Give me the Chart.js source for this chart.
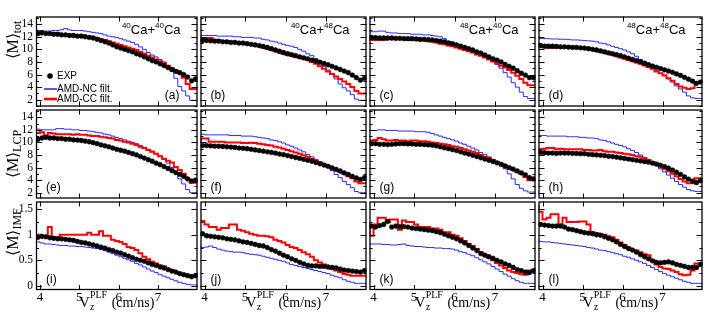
<!DOCTYPE html>
<html><head><meta charset="utf-8">
<script src="https://cdn.jsdelivr.net/npm/chart.js@4.4.1/dist/chart.umd.min.js"></script>
<style>
html,body{margin:0;padding:0;background:#fff;width:709px;height:315px;overflow:hidden;position:relative}
canvas{position:absolute}
</style></head><body>
<script>
// ---------------- DATA ----------------
const BIN_CENTERS = [3.95,4.05,4.15,4.25,4.35,4.45,4.55,4.65,4.75,4.85,4.95,5.05,5.15,5.25,5.35,5.45,5.55,5.65,5.75,5.85,5.95,6.05,6.15,6.25,6.35,6.45,6.55,6.65,6.75,6.85,6.95,7.05,7.15,7.25,7.35,7.45,7.55,7.65,7.75,7.85,7.95];
const BIN_WIDTH = 0.1;
const X_TICKS = [4,5,6,7];
const Y_TICKS_MULT = [2,4,6,8,10,12,14];
const Y_TICKS_IMF = [0,0.5,1,1.5];
const REACTIONS = [['40','40'],['40','48'],['48','40'],['48','48']];
const PANEL_LABELS = ['(a)','(b)','(c)','(d)','(e)','(f)','(g)','(h)','(i)','(j)','(k)','(l)'];
const ROW_SUBSCRIPTS = ['tot','LCP','IMF'];
const LEGEND_LABELS = ['EXP','AMD-NC filt.','AMD-CC filt.'];

// Row 1: <M>_tot
const EXP_A = [12.5,12.6,12.5,12.5,12.4,12.4,12.3,12.3,12.2,12.2,12.1,12.1,12.0,11.9,11.8,11.6,11.4,11.2,11.0,10.7,10.4,10.2,10.0,9.8,9.6,9.3,9.1,8.8,8.5,8.2,8.0,7.7,7.4,7.1,6.8,6.5,6.3,6.0,5.6,5.0,5.3];
const CC_A  = [12.9,12.8,12.7,12.6,12.6,12.5,12.5,12.4,12.4,12.3,12.3,12.2,12.2,12.1,12.0,11.9,11.8,11.6,11.5,11.3,11.1,10.9,10.7,10.5,10.3,10.1,9.9,9.6,9.3,9.0,8.7,8.4,8.1,7.8,7.4,7.0,6.6,6.2,5.5,4.5,3.7];
const NC_A  = [13.2,13.0,13.0,12.9,12.9,13.0,13.0,13.1,13.3,13.1,13.0,13.0,13.0,12.9,12.8,12.7,12.6,12.5,12.3,12.1,12.0,11.9,11.7,11.5,11.3,11.1,10.8,10.4,10.0,9.5,9.1,8.8,8.4,8.0,7.4,6.5,5.4,4.1,3.4,2.6,1.9];

const EXP_B = [11.4,11.4,11.35,11.3,11.3,11.2,11.2,11.1,11.1,11.0,11.0,10.9,10.8,10.7,10.6,10.45,10.3,10.1,9.9,9.7,9.5,9.3,9.15,9.0,8.8,8.65,8.5,8.3,8.15,7.95,7.75,7.55,7.3,7.05,6.8,6.55,6.3,5.9,5.5,5.1,5.4];
const CC_B  = [11.6,11.6,11.8,11.8,11.5,11.4,11.3,11.2,11.1,11.1,11.0,10.9,10.8,10.7,10.6,10.5,10.3,10.1,9.9,9.7,9.5,9.3,9.1,9.0,8.8,8.7,8.5,8.3,8.0,7.7,7.3,6.9,6.5,6.1,5.7,5.3,4.9,4.5,4.0,3.4,3.0];
const NC_B  = [12.2,12.2,12.2,12.2,12.2,12.1,12.1,12.1,12.1,12.0,12.0,11.9,11.9,11.9,11.8,11.8,11.6,11.5,11.3,11.2,11.0,10.8,10.6,10.5,10.3,10.0,9.7,9.3,9.0,8.5,7.8,7.3,6.7,6.0,5.3,4.5,3.9,3.4,2.8,2.1,1.9];

const EXP_C = [11.9,11.85,11.8,11.8,11.8,11.8,11.75,11.75,11.7,11.7,11.7,11.65,11.6,11.6,11.55,11.5,11.4,11.3,11.2,11.0,10.9,10.7,10.5,10.3,10.1,9.9,9.6,9.4,9.1,8.8,8.5,8.3,8.0,7.6,7.3,7.0,6.6,6.2,5.9,5.5,5.5];
const CC_C  = [11.4,11.5,11.5,11.5,11.5,11.6,11.6,11.6,11.6,11.6,11.5,11.5,11.5,11.4,11.4,11.3,11.2,11.1,10.9,10.8,10.6,10.5,10.3,10.1,9.9,9.7,9.5,9.2,9.0,8.7,8.4,8.1,7.8,7.4,7.1,6.7,6.3,5.8,5.3,4.7,4.3];
const NC_C  = [12.8,12.8,12.8,12.9,12.9,12.7,12.6,12.6,12.5,12.5,12.5,12.4,12.4,12.4,12.3,12.3,12.2,12.1,12.0,11.7,11.3,10.9,10.6,10.4,10.1,9.9,9.6,9.4,9.1,8.8,8.4,8.0,7.6,7.0,6.3,5.6,4.7,4.0,3.2,2.5,2.2];

const EXP_D = [10.6,10.5,10.5,10.5,10.45,10.4,10.4,10.35,10.3,10.3,10.25,10.2,10.1,10.0,9.9,9.75,9.6,9.45,9.3,9.15,9.0,8.8,8.6,8.4,8.2,8.0,7.8,7.55,7.35,7.15,6.95,6.75,6.55,6.35,6.1,5.85,5.55,5.25,4.95,4.6,4.8];
const CC_D  = [10.4,10.4,10.3,10.2,10.2,10.3,10.3,10.3,10.3,10.3,10.2,10.2,10.1,10.0,9.9,9.75,9.6,9.45,9.3,9.1,8.9,8.7,8.5,8.3,8.1,7.9,7.7,7.45,7.2,6.9,6.5,6.2,5.9,5.4,5.0,4.5,4.1,3.9,3.7,3.8,4.8];
const NC_D  = [11.7,11.7,11.7,11.7,11.65,11.65,11.6,11.6,11.55,11.5,11.5,11.45,11.4,11.35,11.3,11.2,11.0,10.9,10.7,10.5,10.3,10.1,9.9,9.6,9.3,8.9,8.4,8.0,7.5,7.1,6.6,6.2,5.8,5.3,4.8,4.2,3.7,3.2,2.6,2.3,2.2];

// Row 2: <M>_LCP
const EXP_E = [10.5,10.7,10.8,10.7,10.7,10.6,10.6,10.5,10.5,10.4,10.35,10.3,10.2,10.1,9.95,9.8,9.6,9.45,9.3,9.1,8.9,8.75,8.6,8.4,8.2,8.0,7.75,7.5,7.25,7.0,6.7,6.45,6.15,5.85,5.5,5.2,4.9,4.6,4.2,3.85,4.0];
const CC_E  = [12.0,11.5,11.6,11.1,11.5,11.4,11.3,11.3,11.3,11.3,11.2,11.3,11.2,11.2,11.1,11.0,11.0,10.9,10.8,10.7,10.6,10.4,10.3,10.1,10.0,9.8,9.6,9.3,9.1,8.8,8.5,8.2,7.8,7.4,7.1,6.8,6.1,5.6,5.0,4.2,3.6];
const NC_E  = [12.3,12.1,12.0,12.0,12.0,12.0,12.2,12.2,12.1,12.1,12.0,12.0,11.9,11.9,11.8,11.7,11.6,11.5,11.3,11.2,11.0,10.8,10.6,10.4,10.2,10.0,9.8,9.5,9.2,8.9,8.6,8.2,7.8,7.3,6.7,6.0,5.2,4.2,3.4,2.5,2.0];

const EXP_F = [9.5,9.5,9.45,9.4,9.4,9.35,9.3,9.25,9.2,9.1,9.05,9.0,8.9,8.8,8.7,8.6,8.5,8.4,8.3,8.15,8.05,7.9,7.75,7.6,7.45,7.3,7.15,7.0,6.8,6.6,6.4,6.2,5.95,5.7,5.45,5.15,4.9,4.6,4.35,4.1,4.4];
const CC_F  = [10.0,10.6,10.6,10.1,10.1,10.1,10.1,10.0,10.0,10.0,10.0,9.9,9.9,9.95,9.9,9.8,9.7,9.6,9.5,9.3,9.2,9.0,8.8,8.6,8.4,8.2,7.95,7.7,7.4,7.1,6.8,6.5,6.2,5.9,5.6,5.3,5.0,4.6,4.3,3.8,3.5];
const NC_F  = [11.3,11.3,11.2,11.2,11.2,11.2,11.2,11.2,11.1,11.1,11.1,11.0,11.0,11.0,10.9,10.8,10.7,10.6,10.4,10.3,10.1,9.9,9.6,9.4,9.1,8.8,8.5,8.1,7.7,7.3,6.9,6.5,6.0,5.5,4.9,4.4,3.8,3.3,2.8,2.2,2.0];

const EXP_G = [9.8,9.8,9.7,9.7,9.65,9.7,9.75,9.8,9.8,9.75,9.75,9.7,9.7,9.65,9.6,9.55,9.45,9.3,9.15,9.0,8.85,8.7,8.5,8.3,8.15,7.95,7.75,7.55,7.35,7.15,6.95,6.75,6.5,6.25,6.0,5.75,5.45,5.15,4.85,4.4,4.2];
const CC_G  = [10.3,10.3,10.4,10.7,10.5,10.3,10.3,10.4,10.3,10.3,10.2,10.3,10.3,10.2,10.2,10.1,10.0,9.9,9.8,9.7,9.6,9.4,9.3,9.1,8.9,8.7,8.5,8.3,8.0,7.7,7.5,7.2,6.9,6.6,6.3,6.0,5.6,5.3,5.0,4.5,4.0];
const NC_G  = [11.9,11.9,11.9,12.0,12.0,11.9,11.9,11.9,11.8,11.8,11.8,11.8,11.7,11.7,11.7,11.6,11.4,11.2,11.0,10.8,10.6,10.4,10.2,9.9,9.7,9.4,9.1,8.8,8.4,8.1,7.7,7.3,6.9,6.4,5.8,5.0,4.2,3.3,2.7,2.3,2.1];

const EXP_H = [8.4,8.35,8.3,8.3,8.25,8.3,8.3,8.3,8.25,8.25,8.2,8.2,8.1,8.05,8.0,7.95,7.9,7.8,7.75,7.65,7.55,7.45,7.35,7.25,7.15,7.05,6.95,6.85,6.7,6.55,6.35,6.15,5.9,5.6,5.25,4.9,4.5,4.15,3.85,3.6,3.9];
const CC_H  = [8.8,8.9,9.0,9.1,9.1,8.9,9.0,8.9,8.9,8.9,8.9,8.9,8.8,8.8,8.7,8.7,8.8,8.6,8.5,8.5,8.4,8.3,8.2,8.1,8.0,7.8,7.7,7.5,7.2,6.9,6.6,6.2,5.8,5.4,5.0,4.6,4.2,3.8,3.5,3.5,4.3];
const NC_H  = [11.1,11.1,11.1,11.0,11.0,11.0,11.0,11.0,10.9,10.9,10.9,10.8,10.8,10.7,10.7,10.6,10.4,10.3,10.1,9.9,9.7,9.5,9.3,9.0,8.7,8.4,8.0,7.6,7.2,6.8,6.3,5.8,5.3,4.8,4.3,3.8,3.3,2.9,2.5,2.3,2.2];

// Row 3: <M>_IMF
const EXP_I = [0.95,0.97,0.96,0.94,0.93,0.92,0.92,0.91,0.9,0.89,0.87,0.85,0.84,0.82,0.8,0.78,0.76,0.74,0.71,0.69,0.66,0.64,0.61,0.58,0.55,0.52,0.5,0.48,0.45,0.42,0.4,0.37,0.35,0.32,0.29,0.27,0.24,0.22,0.2,0.18,0.2];
const CC_I  = [0.98,1.0,0.95,0.95,1.15,0.95,0.95,1.0,1.0,1.0,1.0,1.0,1.0,1.0,1.04,1.0,1.0,1.07,0.98,0.98,0.9,0.88,0.86,0.82,0.76,0.74,0.7,0.64,0.57,0.52,0.47,0.44,0.4,0.38,0.33,0.31,0.27,0.24,0.23,0.21,0.21];
const NC_I  = [0.88,0.86,0.84,0.82,0.82,0.81,0.8,0.79,0.79,0.78,0.78,0.77,0.77,0.76,0.75,0.74,0.73,0.71,0.69,0.66,0.63,0.6,0.57,0.54,0.51,0.48,0.44,0.41,0.37,0.33,0.29,0.26,0.22,0.19,0.16,0.13,0.1,0.07,0.05,0.03,0.02];

const EXP_J = [1.02,0.98,0.97,0.96,0.95,0.94,0.92,0.91,0.9,0.88,0.86,0.85,0.83,0.81,0.79,0.78,0.75,0.71,0.68,0.64,0.6,0.57,0.53,0.5,0.46,0.43,0.4,0.39,0.39,0.38,0.38,0.37,0.36,0.35,0.33,0.31,0.3,0.29,0.28,0.27,0.3];
const CC_J  = [1.27,1.27,1.2,1.15,1.15,1.1,1.13,1.13,1.2,1.2,1.1,1.08,1.05,1.02,1.0,0.98,0.98,0.97,0.95,0.9,0.88,0.85,0.8,0.76,0.74,0.7,0.66,0.62,0.57,0.5,0.46,0.42,0.37,0.33,0.3,0.27,0.24,0.22,0.2,0.2,0.2];
const NC_J  = [0.79,0.75,0.76,0.78,0.75,0.72,0.7,0.68,0.67,0.66,0.66,0.65,0.63,0.62,0.61,0.6,0.58,0.56,0.54,0.52,0.5,0.48,0.45,0.42,0.4,0.38,0.36,0.34,0.32,0.3,0.28,0.26,0.24,0.21,0.18,0.16,0.12,0.09,0.07,0.05,0.05];

const EXP_K = [1.17,1.15,1.18,1.2,1.26,1.15,1.17,1.16,1.16,1.15,1.13,1.12,1.11,1.1,1.09,1.08,1.06,1.04,1.01,0.98,0.95,0.92,0.88,0.84,0.79,0.74,0.69,0.63,0.6,0.57,0.54,0.5,0.47,0.43,0.4,0.36,0.32,0.3,0.27,0.26,0.3];
const CC_K  = [1.23,0.98,1.2,1.33,1.33,1.25,1.3,1.3,1.1,1.28,1.25,1.25,1.2,1.15,1.15,1.15,1.12,1.12,1.1,1.05,1.05,1.0,0.98,0.93,0.88,0.82,0.78,0.72,0.66,0.6,0.55,0.5,0.45,0.4,0.35,0.3,0.27,0.25,0.23,0.22,0.3];
const NC_K  = [0.81,0.82,0.82,0.82,0.81,0.81,0.8,0.8,0.81,0.82,0.79,0.78,0.77,0.77,0.76,0.75,0.75,0.74,0.74,0.73,0.73,0.72,0.7,0.67,0.65,0.62,0.59,0.55,0.51,0.47,0.43,0.38,0.33,0.28,0.23,0.19,0.14,0.1,0.07,0.05,0.05];

const EXP_L = [1.2,1.19,1.18,1.17,1.17,1.17,1.15,1.11,1.1,1.08,1.06,1.04,1.03,1.02,1.0,0.99,0.96,0.93,0.9,0.86,0.81,0.77,0.73,0.7,0.66,0.61,0.57,0.53,0.49,0.46,0.45,0.46,0.47,0.45,0.42,0.4,0.38,0.36,0.36,0.36,0.42];
const CC_L  = [1.59,1.45,1.3,1.33,1.4,1.4,1.2,1.33,1.25,1.25,1.25,1.26,1.26,1.2,1.05,1.03,1.01,1.0,0.97,0.95,0.9,0.85,0.8,0.75,0.7,0.69,0.66,0.62,0.6,0.5,0.42,0.37,0.34,0.33,0.3,0.27,0.23,0.21,0.22,0.3,0.44];
const NC_L  = [0.88,0.87,0.86,0.86,0.85,0.84,0.83,0.82,0.81,0.8,0.79,0.78,0.77,0.75,0.74,0.72,0.7,0.69,0.67,0.65,0.63,0.61,0.58,0.56,0.53,0.5,0.47,0.44,0.4,0.36,0.32,0.28,0.24,0.21,0.18,0.15,0.12,0.09,0.07,0.05,0.05];

const SERIES = [
  [EXP_A, NC_A, CC_A],[EXP_B, NC_B, CC_B],[EXP_C, NC_C, CC_C],[EXP_D, NC_D, CC_D],
  [EXP_E, NC_E, CC_E],[EXP_F, NC_F, CC_F],[EXP_G, NC_G, CC_G],[EXP_H, NC_H, CC_H],
  [EXP_I, NC_I, CC_I],[EXP_J, NC_J, CC_J],[EXP_K, NC_K, CC_K],[EXP_L, NC_L, CC_L]
];

// ---------------- LAYOUT / STYLE ----------------
const COL_L = [36,199,368,537], COL_R = [199,368,537,704];
const ROW_T = [15,108,200], ROW_B = [108,200,290];
const X_RANGE = [3.9, 8.0];
const Y_RANGE = [[0.92,15.22],[1.08,15.23],[-0.08,1.65]];
const Y_TICKS = [Y_TICKS_MULT, Y_TICKS_MULT, Y_TICKS_IMF];
const Y_MINOR = [1, 1, 0.25];
const YTITLE_CENTER = [40, 154, 232];
const M = 3;
const SERIF = '"Liberation Serif","Times New Roman",serif';
const SANS = '"Liberation Sans",Arial,sans-serif';
const BLUE = '#2a2aff', RED = '#ff0000';

function drawRich(ctx, parts, x, y, align) {
  let w = 0;
  parts.forEach(p => { ctx.font = p.f; p.w = ctx.measureText(p.t).width; w += p.w; });
  let cx = align === 'right' ? x - w : align === 'center' ? x - w / 2 : x;
  ctx.textAlign = 'left'; ctx.textBaseline = 'alphabetic';
  parts.forEach(p => { ctx.font = p.f; ctx.fillText(p.t, cx, y + (p.dy || 0)); cx += p.w; });
}

function makePanel(r, c) {
  const idx = r * 4 + c;
  const [exp, nc, cc] = SERIES[idx];
  const left = c === 0 ? 0 : COL_L[c] - M;
  const top = ROW_T[r] - M;
  const right = COL_R[c] + M;
  const bottom = r === 2 ? 315 : ROW_B[r] + M;
  const w = right - left, h = bottom - top;
  const cv = document.createElement('canvas');
  cv.width = w; cv.height = h;
  cv.style.left = left + 'px'; cv.style.top = top + 'px';
  cv.style.width = w + 'px'; cv.style.height = h + 'px';
  document.body.appendChild(cv);

  const histo = vals => {
    const pts = BIN_CENTERS.map((x, i) => ({x: x - BIN_WIDTH / 2, y: vals[i]}));
    pts.push({x: BIN_CENTERS[BIN_CENTERS.length - 1] + BIN_WIDTH / 2, y: vals[vals.length - 1]});
    return pts;
  };
  const showX = r === 2, showY = c === 0;

  const framePlugin = {
    id: 'frame' + idx,
    afterDatasetsDraw(chart) {
      const ctx = chart.ctx, a = chart.chartArea, xs = chart.scales.x, ys = chart.scales.y;
      ctx.save();
      ctx.strokeStyle = '#000'; ctx.lineWidth = 1;
      ctx.beginPath();
      X_TICKS.forEach(v => {
        const px = Math.round(xs.getPixelForValue(v)) + 0.5;
        ctx.moveTo(px, a.top); ctx.lineTo(px, a.top + 5);
        ctx.moveTo(px, a.bottom); ctx.lineTo(px, a.bottom - 5);
      });
      const step = Y_MINOR[r];
      for (let v = Math.ceil(Y_RANGE[r][0] / step) * step; v <= Y_RANGE[r][1] + 1e-9; v += step) {
        const major = Y_TICKS[r].some(t => Math.abs(t - v) < 1e-6);
        const len = major ? 6 : 3;
        const py = Math.round(ys.getPixelForValue(v)) + 0.5;
        ctx.moveTo(a.left, py); ctx.lineTo(a.left + len, py);
        ctx.moveTo(a.right, py); ctx.lineTo(a.right - len, py);
      }
      ctx.stroke();
      ctx.lineWidth = 1.3;
      ctx.strokeRect(a.left + 0.5, a.top + 0.5, a.right - a.left - 1, a.bottom - a.top - 1);
      ctx.restore();
    },
    afterDraw(chart) {
      const ctx = chart.ctx, a = chart.chartArea;
      ctx.save();
      ctx.fillStyle = '#000';
      if (r === 0) {
        const [p1, p2] = REACTIONS[c];
        drawRich(ctx, [
          {t: p1, f: `8px ${SANS}`, dy: -5.5}, {t: 'Ca+', f: `13px ${SANS}`},
          {t: p2, f: `8px ${SANS}`, dy: -5.5}, {t: 'Ca', f: `13px ${SANS}`}
        ], a.right - 17, a.top + 17, 'right');
      }
      ctx.font = `12px ${SANS}`; ctx.textBaseline = 'middle';
      if (idx === 0) { ctx.textAlign = 'right'; ctx.fillText(PANEL_LABELS[idx], a.right - 18, a.bottom - 10.5); }
      else { ctx.textAlign = 'left'; ctx.fillText(PANEL_LABELS[idx], a.left + 10, a.bottom - 10.5); }
      if (idx === 0) {
        ctx.beginPath(); ctx.arc(a.left + 14, a.top + 59.5, 2.8, 0, Math.PI * 2); ctx.fill();
        ctx.lineWidth = 1.6; ctx.strokeStyle = BLUE;
        ctx.beginPath(); ctx.moveTo(a.left + 8, a.top + 72.5); ctx.lineTo(a.left + 21, a.top + 72.5); ctx.stroke();
        ctx.lineWidth = 2.6; ctx.strokeStyle = RED;
        ctx.beginPath(); ctx.moveTo(a.left + 8, a.top + 82.5); ctx.lineTo(a.left + 21, a.top + 82.5); ctx.stroke();
        ctx.font = `10px ${SANS}`; ctx.textAlign = 'left'; ctx.textBaseline = 'middle';
        ctx.fillText(LEGEND_LABELS[0], a.left + 21, a.top + 60);
        ctx.fillText(LEGEND_LABELS[1], a.left + 21, a.top + 72.5);
        ctx.fillText(LEGEND_LABELS[2], a.left + 21, a.top + 82.5);
      }
      if (c === 0) {
        ctx.save();
        ctx.translate(18, YTITLE_CENTER[r] - top);
        ctx.rotate(-Math.PI / 2);
        drawRich(ctx, [{t: '\u27E8M\u27E9', f: `16px ${SERIF}`}, {t: ROW_SUBSCRIPTS[r], f: `12px ${SERIF}`, dy: 3}], 0, 0, 'center');
        ctx.restore();
      }
      if (r === 2) {
        const by = a.bottom + 16.5;
        ctx.textAlign = 'left'; ctx.textBaseline = 'alphabetic';
        ctx.font = `15px ${SERIF}`; const wV = ctx.measureText('V').width;
        ctx.font = `10px ${SERIF}`; const wz = ctx.measureText('z').width, wP = ctx.measureText('PLF').width;
        ctx.font = `14px ${SERIF}`; const wU = ctx.measureText(' (cm/ns)').width;
        const wS = Math.max(wz, wP) + 1;
        let x0 = (a.left + a.right) / 2 - (wV + wS + wU) / 2;
        ctx.font = `15px ${SERIF}`; ctx.fillText('V', x0, by);
        ctx.font = `10px ${SERIF}`; ctx.fillText('z', x0 + wV, by + 3); ctx.fillText('PLF', x0 + wV, by - 9);
        ctx.font = `14px ${SERIF}`; ctx.fillText(' (cm/ns)', x0 + wV + wS, by);
      }
      ctx.restore();
    }
  };

  new Chart(cv, {
    type: 'line',
    data: {
      datasets: [
        {data: BIN_CENTERS.map((x, i) => ({x, y: exp[i]})), showLine: false, pointRadius: 2.4,
         pointBackgroundColor: '#000', pointBorderColor: '#000', pointBorderWidth: 0.5, pointStyle: 'circle'},
        {data: histo(cc), stepped: 'after', borderColor: RED, borderWidth: 2, pointRadius: 0, fill: false},
        {data: histo(nc), stepped: 'after', borderColor: BLUE, borderWidth: 1, pointRadius: 0, fill: false}
      ]
    },
    options: {
      responsive: false, animation: false, events: [],
      layout: {padding: {left: showY ? 0 : M, right: M, top: M, bottom: showX ? 0 : M}},
      plugins: {legend: {display: false}, tooltip: {enabled: false}},
      scales: {
        x: {
          type: 'linear', min: X_RANGE[0], max: X_RANGE[1], display: showX,
          afterFit: s => { if (showX) s.height = 315 - ROW_B[2]; s.paddingLeft = 0; s.paddingRight = 0; s.paddingTop = 0; s.paddingBottom = 0; },
          afterBuildTicks: s => { s.ticks = X_TICKS.map(v => ({value: v})); },
          grid: {display: false, drawTicks: false}, border: {display: false},
          ticks: {font: {family: SERIF, size: 13}, color: '#000', padding: 0, maxRotation: 0, autoSkip: false, callback: v => `${v}`}
        },
        y: {
          type: 'linear', min: Y_RANGE[r][0], max: Y_RANGE[r][1], display: showY,
          afterFit: s => { if (showY) s.width = COL_L[0]; s.paddingTop = 0; s.paddingBottom = 0; s.paddingLeft = 0; s.paddingRight = 0; },
          afterBuildTicks: s => { s.ticks = Y_TICKS[r].map(v => ({value: v})); },
          grid: {display: false, drawTicks: false}, border: {display: false},
          ticks: {font: {family: SERIF, size: 11.5}, color: '#000', padding: 3, autoSkip: false, callback: v => `${v}`}
        }
      }
    },
    plugins: [framePlugin]
  });
}

for (let r = 0; r < 3; r++) for (let c = 0; c < 4; c++) makePanel(r, c);
</script>
</body></html>
